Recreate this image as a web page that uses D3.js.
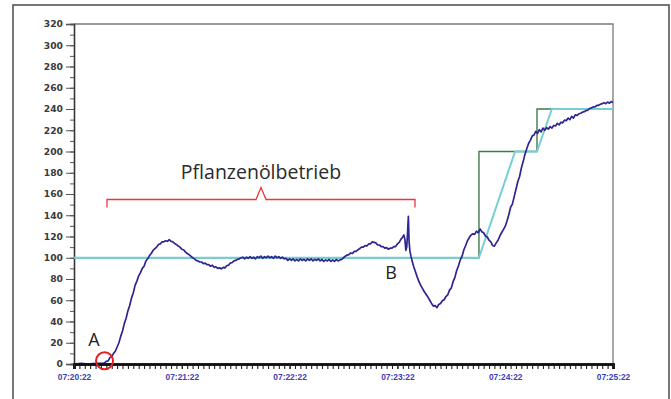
<!DOCTYPE html>
<html>
<head>
<meta charset="utf-8">
<script src="https://cdn.jsdelivr.net/npm/d3@7"></script>
<style>
  html, body { margin: 0; padding: 0; background: #fff; }
  svg { display: block; }
</style>
</head>
<body>
<svg id="chart" width="671" height="399"></svg>
<script>
// Measured speed trace: [seconds after 07:20:22, value]
const measured = [
  [0,0],[4,0.5],[8,0],[12,0.5],[16,0.5],[17,1],[18,2.5],[19,3],[20,6],[21,7],[22,10],[23,12],[24,16],[25,20],
  [26,26],[27,31],[28,38],[29,43],[30,50],[31,55],[32,62],[33,67],[34,74],[35,78],[36,83],[37,86],[38,90],[39,92],
  [40,97],[41,99],[42,102],[43,104],[44,107],[45,108.5],[46,110],[47,112.5],[48,113],[49,115],[50,115],[51,116],
  [52,115.5],[53,117],[54,115.5],[55,115],[56,113.5],[57,112.5],[58,111],[59,110],[60,108],[61,107.5],[62,105.5],
  [63,104],[64,103],[65,101.5],[66,100],[67,99],[68,97.5],[69,97],[70,96],[71,96],[72,94.5],[73,95],[74,93.5],
  [75,93.5],[76,92],[77,93],[78,91],[79,91.5],[80,90],[81,90.5],[82,89.5],[83,91],[84,90.5],[85,92.5],[86,93],
  [87,95],[88,95.5],[89,97],[90,97.5],[91,98.5],[92,99],[93,100],[94,100.5],[95,99],[96,100.5],[97,99.5],[98,101],
  [99,99.5],[100,100.5],[101,99],[102,101],[103,100],[104,101.5],[105,99.5],[106,101],[107,100],[108,101.5],
  [109,100],[110,101],[111,99.5],[112,101.5],[113,100],[114,101],[115,99.5],[116,100.5],[117,99],[118,99.5],
  [119,97.5],[120,99],[121,97.5],[122,99],[123,97],[124,98.5],[125,97],[126,99],[127,97.5],[128,98.5],[129,97],
  [130,99],[131,97.5],[132,99],[133,97],[134,98.5],[135,97.5],[136,99],[137,97],[138,98.5],[139,96.5],[140,98],
  [141,97],[142,98.5],[143,96.5],[144,98],[145,96.5],[146,98.5],[147,97],[148,98],[149,98.5],[150,100],
  [151,101.5],[152,102.5],[153,103],[154,104.5],[155,104],[156,106],[157,106],[158,107.5],[159,108.5],[160,110],
  [161,110],[162,111.5],[163,111],[164,113],[165,113],[166,115],[167,114.5],[168,114],[169,112],[170,112],
  [171,110.5],[172,110.5],[173,109],[174,109.5],[175,108],[176,109],[177,109],[178,110.5],[179,110.5],[180,113],
  [181,114.5],[182,117.5],[183,119.5],[183.6,121.5],[184.2,117],[184.7,107],[185.2,110],[185.7,125],[186.1,139],
  [186.5,115],[187,106],[187.6,101],[188.2,97],[189,92],[190,87],[191,82],[192,77.5],[193,74],[194,71],[195,68],
  [196,65.5],[197,63],[198,60],[199,57],[200,54.5],[201,55],[202,53],[203,56],[204,57],[205,59.5],[206,60.5],
  [207,63.5],[208,65],[209,69.5],[210,71.5],[211,77.5],[212,81.5],[213,88],[214,92.5],[215,98],[216,101.5],
  [217,107.5],[218,111.5],[219,116],[220,119],[221,121.5],[222,122.5],[223,122],[224,125],[225,123.5],[226,127],
  [227,124.5],[228,123.5],[229,120.5],[230,119.5],[231,116.5],[232,115],[233,111.5],[234,111],[235,114],
  [236,116.5],[237,120.5],[238,123.5],[239,126.5],[240,129.5],[241,134.5],[242,140.5],[243,147.5],[244,150.5],
  [245,157.5],[246,164.5],[247,171.5],[248,176.5],[249,184.5],[250,190.5],[251,197.5],[252,202.5],[253,207.5],
  [254,210.5],[255,214.5],[256,215.5],[257,219],[258,217],[259,220.5],[260,218.5],[261,222],[262,220],[263,222.5],
  [264,221],[265,223.5],[266,222],[267,224.5],[268,224],[269,226.5],[270,225],[271,227.5],[272,227],[273,229.5],
  [274,229],[275,231.5],[276,230],[277,233],[278,231.5],[279,234.5],[280,234],[281,235.5],[282,236],[283,237],
  [284,237.5],[285,238.5],[286,239],[287,240.5],[288,241],[289,242],[290,242],[291,243.5],[292,243.5],[293,244.5],
  [294,245],[295,246],[296,245],[297,246.5],[298,245.5],[299,247],[300,246]
];

// Set-point ramp (cyan) and stepped command (green)
const rampTimes  = [0, 225.4, 245.5, 257.7, 266, 300];
const rampValues = [100, 100, 200, 200, 240, 240];
const stepTimes  = [0, 225.4, 225.4, 257.7, 257.7, 300];
const stepValues = [100, 100, 200, 200, 240, 240];

const yTicks = d3.range(0, 321, 20);
const yMinor = d3.range(0, 321, 10);
const minuteOffsets = [0, 60, 120, 180, 240, 300];
const minorOffsets = d3.range(0, 301, 3);

const svg = d3.select("#chart");
const plot = { left: 74, right: 613, top: 24, bottom: 364 };

const t0 = new Date(2000, 0, 1, 7, 20, 22);
const at = s => new Date(t0.getTime() + s * 1000);

const x = d3.scaleTime().domain([at(0), at(300)]).range([plot.left, plot.right]);
const y = d3.scaleLinear().domain([0, 320]).range([plot.bottom, plot.top]);

// outer frame
svg.append("rect").attr("x", 13).attr("y", 5).attr("width", 656).attr("height", 420)
  .attr("fill", "none").attr("stroke", "#4a4a4a").attr("stroke-width", 1.5);

// plot frame (top and right)
svg.append("path")
  .attr("d", `M${plot.left},${plot.top}H${plot.right}V${plot.bottom}`)
  .attr("fill", "none").attr("stroke", "#7a7a7a").attr("stroke-width", 1.3);

// y axis
const yAxis = svg.append("g").attr("transform", `translate(${plot.left},0)`);
yAxis.call(d3.axisLeft(y).tickValues(yMinor).tickSize(4).tickFormat(""));
yAxis.append("g").call(d3.axisLeft(y).tickValues(yTicks).tickSize(8).tickPadding(3)
  .tickFormat(d3.format("d")));
yAxis.selectAll("path.domain").attr("stroke", "#333").attr("stroke-width", 1.3);
yAxis.selectAll("line").attr("stroke", "#555").attr("stroke-width", 1);
yAxis.selectAll("text")
  .attr("font-family", "DejaVu Sans, sans-serif").attr("font-weight", "bold")
  .attr("font-size", 9.2).attr("fill", "#3a3a3a");

// lines
const lineXY = d3.line().x(d => x(at(d[0]))).y(d => y(d[1]));

svg.append("path")
  .datum(stepTimes.map((t, i) => [t, stepValues[i]]))
  .attr("d", lineXY).attr("fill", "none").attr("stroke", "#3f7a4c").attr("stroke-width", 1.4);

svg.append("path")
  .datum(rampTimes.map((t, i) => [t, rampValues[i]]))
  .attr("d", lineXY).attr("fill", "none").attr("stroke", "#76cfd6").attr("stroke-width", 2);

svg.append("path")
  .datum(measured)
  .attr("d", lineXY).attr("fill", "none").attr("stroke", "#2e2590")
  .attr("stroke-width", 1.7).attr("stroke-linejoin", "round");

// x axis
const xAxis = svg.append("g").attr("transform", `translate(0,${plot.bottom})`);
xAxis.call(d3.axisBottom(x).tickValues(minorOffsets.map(at)).tickSize(5).tickFormat(""));
xAxis.append("g").call(d3.axisBottom(x).tickValues(minuteOffsets.map(at)).tickSize(5).tickPadding(5)
  .tickFormat(d3.timeFormat("%H:%M:%S")));
xAxis.selectAll("path.domain").attr("stroke", "#111").attr("stroke-width", 2.6);
xAxis.selectAll("line").attr("stroke", "#222").attr("stroke-width", 1.1);
xAxis.selectAll("text")
  .attr("font-family", "Liberation Sans, Arial, sans-serif").attr("font-weight", "bold")
  .attr("font-size", 8.4).attr("fill", "#3c3fb8");

// annotation: bracket and label
const red = "#e6393e";
const bx0 = 107, bx1 = 415, by = 199.5, bMid = 261;
svg.append("path")
  .attr("d", `M${bx0},${by + 8}V${by}H${bMid - 5}L${bMid},${by - 12}L${bMid + 5},${by}H${bx1}V${by + 8}`)
  .attr("fill", "none").attr("stroke", red).attr("stroke-width", 1.3);

svg.append("text").attr("x", 261).attr("y", 179).attr("text-anchor", "middle")
  .attr("font-family", "Open Sans, sans-serif").attr("font-size", 19.5).attr("fill", "#2a2a2a")
  .text("Pflanzenölbetrieb");

// markers A and B
svg.append("circle").attr("cx", x(at(17))).attr("cy", y(3)).attr("r", 8.5)
  .attr("fill", "none").attr("stroke", "#e3201f").attr("stroke-width", 2);
svg.append("text").attr("x", 94).attr("y", 346).attr("text-anchor", "middle")
  .attr("font-family", "Open Sans, sans-serif").attr("font-size", 18).attr("fill", "#222").text("A");
svg.append("text").attr("x", 391).attr("y", 279).attr("text-anchor", "middle")
  .attr("font-family", "Open Sans, sans-serif").attr("font-size", 18).attr("fill", "#222").text("B");
</script>
</body>
</html>
